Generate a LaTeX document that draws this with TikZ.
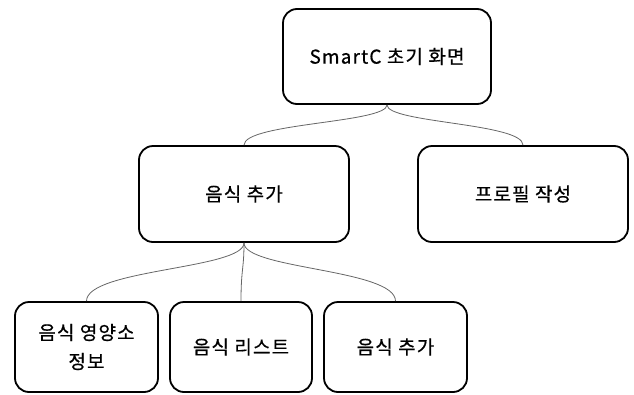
\documentclass[tikz,border=0pt]{standalone}
\usepackage{fontspec}
\setmainfont{Noto Sans CJK KR}[LetterSpace=6,FakeBold=0.6]
\usetikzlibrary{calc}
\begin{document}
\begin{tikzpicture}[x=1pt,y=-1pt,
  box/.style={draw=black,line width=1.8pt,rounded corners=14pt,fill=white,align=center,
    font=\fontsize{19}{29}\selectfont,inner sep=0pt},
  conn/.style={draw=black!60,line width=0.8pt}]
\useasboundingbox (0,0) rectangle (634,394);
\node[box,minimum width=208pt,minimum height=95pt] (top) at (387,56.5) {SmartC 초기 화면};
\node[box,minimum width=210pt,minimum height=96pt] (ml) at (244,194) {음식 추가};
\node[box,minimum width=210pt,minimum height=96pt] (mr) at (523,194) {프로필 작성};
\node[box,minimum width=143pt,minimum height=90pt] (b1) at (86.5,347) {음식 영양소\\정보};
\node[box,minimum width=142pt,minimum height=90pt] (b2) at (241,347) {음식 리스트};
\node[box,minimum width=143pt,minimum height=90pt] (b3) at (395.5,347) {음식 추가};
\coordinate (m1) at ($(top.south)!0.45!(ml.north)$);
\coordinate (m2) at ($(ml.south)!0.45!(b1.north)$);
\draw[conn] (top.south) .. controls (top.south |- m1) and (ml.north |- m1) .. (ml.north);
\draw[conn] (top.south) .. controls (top.south |- m1) and (mr.north |- m1) .. (mr.north);
\draw[conn] (ml.south) .. controls (ml.south |- m2) and (b1.north |- m2) .. (b1.north);
\draw[conn] (ml.south) .. controls (ml.south |- m2) and (b2.north |- m2) .. (b2.north);
\draw[conn] (ml.south) .. controls (ml.south |- m2) and (b3.north |- m2) .. (b3.north);
\end{tikzpicture}
\end{document}
